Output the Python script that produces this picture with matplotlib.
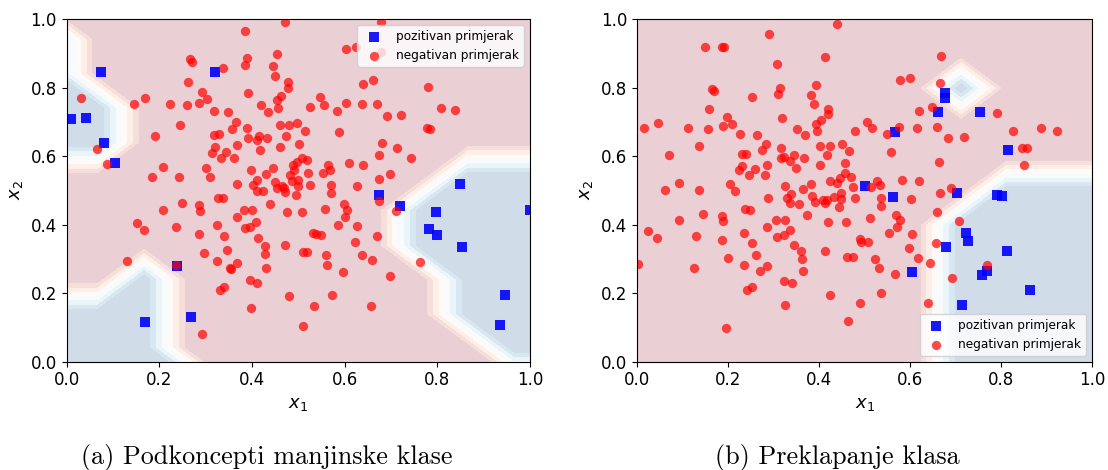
import numpy as np
import matplotlib
matplotlib.use('Agg')
from matplotlib import pyplot as plt

# ---- (a) podkoncepti manjinske klase ----
pos_a = [(0.075, 0.846), (0.320, 0.846), (0.010, 0.708), (0.041, 0.711), (0.080, 0.638),
         (0.104, 0.581), (0.239, 0.278), (0.168, 0.116), (0.269, 0.130), (0.849, 0.519),
         (0.675, 0.485), (0.719, 0.455), (0.797, 0.437), (0.782, 0.387), (0.800, 0.371),
         (0.853, 0.334), (0.947, 0.194), (0.935, 0.107), (1.000, 0.443)]

neg_a = [(0.385, 0.965), (0.471, 0.990), (0.267, 0.882), (0.271, 0.875), (0.338, 0.856),
         (0.390, 0.887), (0.386, 0.866), (0.454, 0.898), (0.445, 0.862), (0.450, 0.833),
         (0.477, 0.817), (0.477, 0.800), (0.261, 0.815), (0.293, 0.788), (0.303, 0.767),
         (0.286, 0.756), (0.260, 0.750), (0.223, 0.753), (0.170, 0.768), (0.146, 0.753),
         (0.030, 0.769), (0.392, 0.783), (0.463, 0.776), (0.453, 0.764), (0.420, 0.750),
         (0.457, 0.741), (0.435, 0.729), (0.317, 0.732), (0.348, 0.728), (0.245, 0.691),
         (0.190, 0.660), (0.365, 0.699), (0.357, 0.678), (0.390, 0.683), (0.318, 0.662),
         (0.329, 0.664), (0.392, 0.654), (0.415, 0.660), (0.410, 0.647), (0.433, 0.652),
         (0.461, 0.691), (0.480, 0.691), (0.498, 0.696), (0.474, 0.660), (0.460, 0.627),
         (0.417, 0.617), (0.368, 0.631), (0.320, 0.626), (0.345, 0.613), (0.314, 0.610),
         (0.333, 0.594), (0.362, 0.594), (0.066, 0.621), (0.086, 0.576), (0.208, 0.568),
         (0.184, 0.539), (0.243, 0.539), (0.300, 0.564), (0.309, 0.539), (0.398, 0.558),
         (0.446, 0.564), (0.430, 0.547), (0.410, 0.531), (0.367, 0.518), (0.403, 0.516),
         (0.449, 0.523), (0.464, 0.514), (0.489, 0.574), (0.497, 0.584), (0.482, 0.545),
         (0.490, 0.560), (0.502, 0.634),
         (0.678, 0.992), (0.602, 0.911), (0.624, 0.919), (0.678, 0.904), (0.640, 0.810),
         (0.662, 0.823), (0.780, 0.801), (0.546, 0.773), (0.525, 0.743), (0.556, 0.750),
         (0.583, 0.731), (0.604, 0.754), (0.637, 0.751), (0.670, 0.753), (0.691, 0.717),
         (0.721, 0.720), (0.808, 0.740), (0.839, 0.735), (0.514, 0.674), (0.589, 0.670),
         (0.778, 0.681), (0.785, 0.679), (0.681, 0.637), (0.714, 0.623), (0.675, 0.603),
         (0.744, 0.594), (0.507, 0.594), (0.519, 0.588), (0.564, 0.574), (0.569, 0.559),
         (0.610, 0.579), (0.639, 0.574), (0.521, 0.552), (0.553, 0.552), (0.698, 0.549),
         (0.674, 0.534), (0.500, 0.530), (0.525, 0.516), (0.571, 0.516), (0.626, 0.514),
         (0.424, 0.498), (0.410, 0.499), (0.453, 0.506), (0.469, 0.508), (0.471, 0.496),
         (0.495, 0.486), (0.326, 0.479), (0.337, 0.477), (0.250, 0.464), (0.285, 0.458),
         (0.287, 0.440), (0.208, 0.444), (0.383, 0.444), (0.400, 0.444), (0.438, 0.461),
         (0.476, 0.436), (0.367, 0.421), (0.408, 0.408), (0.385, 0.390), (0.395, 0.394),
         (0.152, 0.406), (0.167, 0.385), (0.237, 0.392), (0.285, 0.374), (0.324, 0.398),
         (0.339, 0.367), (0.414, 0.360), (0.429, 0.338), (0.471, 0.340), (0.429, 0.315),
         (0.347, 0.327), (0.296, 0.316), (0.325, 0.293), (0.367, 0.288), (0.352, 0.273),
         (0.355, 0.270), (0.431, 0.272), (0.130, 0.295), (0.235, 0.282), (0.396, 0.237),
         (0.411, 0.231), (0.330, 0.209), (0.339, 0.218), (0.479, 0.192), (0.399, 0.157),
         (0.292, 0.082), (0.487, 0.526), (0.500, 0.514),
         (0.571, 0.491), (0.508, 0.437), (0.557, 0.445), (0.599, 0.459), (0.605, 0.444),
         (0.600, 0.421), (0.674, 0.470), (0.711, 0.439), (0.586, 0.399), (0.626, 0.395),
         (0.532, 0.377), (0.538, 0.373), (0.550, 0.371), (0.669, 0.367), (0.622, 0.350),
         (0.510, 0.319), (0.519, 0.319), (0.560, 0.310), (0.561, 0.281), (0.638, 0.310),
         (0.659, 0.297), (0.763, 0.292), (0.597, 0.262), (0.699, 0.249), (0.572, 0.195),
         (0.533, 0.163), (0.656, 0.164), (0.511, 0.105)]

# ---- (b) preklapanje klasa ----
pos_b = [(0.676, 0.783), (0.676, 0.769), (0.662, 0.730), (0.754, 0.730), (0.567, 0.671),
         (0.815, 0.618), (0.500, 0.513), (0.563, 0.480), (0.703, 0.491), (0.791, 0.486),
         (0.801, 0.484), (0.723, 0.376), (0.728, 0.352), (0.679, 0.334), (0.813, 0.324),
         (0.604, 0.263), (0.769, 0.265), (0.759, 0.253), (0.864, 0.209), (0.715, 0.165)]

neg_b = [(0.439, 0.985), (0.291, 0.955), (0.150, 0.917), (0.186, 0.919), (0.190, 0.919),
         (0.414, 0.888), (0.308, 0.868), (0.164, 0.796), (0.168, 0.790), (0.314, 0.799),
         (0.309, 0.780), (0.252, 0.772), (0.394, 0.808), (0.382, 0.777), (0.388, 0.751),
         (0.420, 0.737), (0.420, 0.723), (0.158, 0.736), (0.197, 0.713), (0.209, 0.694),
         (0.188, 0.687), (0.155, 0.680), (0.111, 0.683), (0.046, 0.696), (0.016, 0.683),
         (0.318, 0.710), (0.404, 0.704), (0.393, 0.694), (0.396, 0.673), (0.352, 0.680),
         (0.370, 0.662), (0.226, 0.664), (0.263, 0.662), (0.479, 0.674), (0.505, 0.699),
         (0.137, 0.629), (0.070, 0.602), (0.284, 0.636), (0.275, 0.618), (0.316, 0.623),
         (0.316, 0.595), (0.322, 0.596), (0.344, 0.603), (0.336, 0.587), (0.349, 0.564),
         (0.367, 0.595), (0.230, 0.605), (0.240, 0.605), (0.230, 0.572), (0.223, 0.559),
         (0.259, 0.561), (0.246, 0.545), (0.286, 0.575), (0.281, 0.545), (0.402, 0.630),
         (0.424, 0.630), (0.450, 0.634), (0.466, 0.615), (0.418, 0.602), (0.401, 0.573),
         (0.457, 0.579), (0.093, 0.522), (0.204, 0.518), (0.324, 0.514), (0.382, 0.518),
         (0.424, 0.528), (0.439, 0.521), (0.446, 0.535), (0.457, 0.550), (0.471, 0.540),
         (0.474, 0.511), (0.062, 0.501), (0.135, 0.501),
         (0.215, 0.498), (0.287, 0.479), (0.338, 0.489), (0.330, 0.477), (0.336, 0.462),
         (0.356, 0.460), (0.364, 0.504), (0.385, 0.484), (0.391, 0.467), (0.409, 0.472),
         (0.413, 0.462), (0.417, 0.472), (0.433, 0.481), (0.448, 0.491), (0.448, 0.475),
         (0.443, 0.452), (0.479, 0.477), (0.237, 0.446), (0.248, 0.444), (0.144, 0.431),
         (0.093, 0.414), (0.187, 0.425), (0.188, 0.411), (0.305, 0.413), (0.326, 0.413),
         (0.286, 0.393), (0.374, 0.429), (0.420, 0.407), (0.459, 0.408), (0.512, 0.418),
         (0.025, 0.381), (0.043, 0.362), (0.129, 0.368), (0.187, 0.354), (0.234, 0.375),
         (0.253, 0.347), (0.308, 0.365), (0.322, 0.370), (0.337, 0.384), (0.344, 0.340),
         (0.361, 0.323), (0.362, 0.300), (0.413, 0.324), (0.489, 0.357), (0.492, 0.350),
         (0.508, 0.350), (0.200, 0.303), (0.261, 0.311), (0.235, 0.283), (0.286, 0.279),
         (0.271, 0.265), (0.364, 0.264), (0.461, 0.305), (0.474, 0.305), (0.003, 0.284),
         (0.126, 0.273), (0.322, 0.235), (0.341, 0.229), (0.241, 0.210), (0.253, 0.218),
         (0.424, 0.195), (0.489, 0.170), (0.326, 0.165), (0.463, 0.119), (0.195, 0.099),
         (0.517, 0.681), (0.576, 0.684), (0.615, 0.681), (0.620, 0.732), (0.648, 0.744),
         (0.549, 0.664), (0.558, 0.611), (0.659, 0.686), (0.664, 0.583), (0.527, 0.528),
         (0.534, 0.516), (0.514, 0.509), (0.583, 0.530), (0.620, 0.528), (0.536, 0.478),
         (0.536, 0.455), (0.603, 0.475), (0.659, 0.438), (0.569, 0.428), (0.578, 0.414),
         (0.572, 0.394), (0.554, 0.375), (0.604, 0.372), (0.598, 0.333), (0.656, 0.347),
         (0.618, 0.302), (0.523, 0.299),
         (0.666, 0.491), (0.689, 0.506), (0.707, 0.411), (0.532, 0.273), (0.566, 0.256),
         (0.643, 0.287), (0.692, 0.245), (0.770, 0.282), (0.536, 0.200), (0.640, 0.172),
         (0.667, 0.893), (0.600, 0.827), (0.578, 0.822), (0.666, 0.814), (0.792, 0.725),
         (0.683, 0.652), (0.719, 0.655), (0.826, 0.673),
         (0.888, 0.681), (0.923, 0.673), (0.846, 0.623), (0.857, 0.623), (0.851, 0.573)]

# classifier prediction on the 0.1-step mesh (1 = pozitivan), top row first
pred_a = ["00000000000000",
          "00000000000000",
          "11000000000000",
          "11000000000000",
          "11100000000000",
          "11100000000000",
          "00000000001111",
          "00000000011111",
          "00000000011111",
          "00010000001111",
          "11110000001111",
          "11110000000111",
          "11111000000000",
          "11111000000000"]
mesh_a_x0, mesh_a_y0 = -0.133, -0.16

pred_b = ["0000000000000",
          "0000000000000",
          "0000000000000",
          "0000000010000",
          "0000000000000",
          "0000000000000",
          "0000000001111",
          "0000000011111",
          "0000000011111",
          "0000000011111",
          "0000000011111",
          "0000000011111",
          "0000000011111"]
mesh_b_x0, mesh_b_y0 = -0.088, -0.102

labels = ['pozitivan primjerak', 'negativan primjerak']
captions = ['(a) Podkoncepti manjinske klase', '(b) Preklapanje klasa']

# RdBu bands at alpha 0.2 on white, pre-mixed so that no seams show between bands
levels = np.linspace(0, 1, 9)
mids = (levels[:-1] + levels[1:]) / 2
band_colors = [0.8 * np.ones(3) + 0.2 * np.array(plt.cm.RdBu(m)[:3]) for m in mids]


def draw_panel(ax, pos, neg, pred, x0, y0, legend_loc):
    Z = np.array([[int(c) for c in row] for row in pred[::-1]], dtype=float)
    xs = x0 + 0.1 * np.arange(Z.shape[1])
    ys = y0 + 0.1 * np.arange(Z.shape[0])
    xx, yy = np.meshgrid(xs, ys)
    ax.contourf(xx, yy, Z, levels=levels, colors=band_colors, antialiased=False)

    pos = np.array(pos)
    neg = np.array(neg)
    ax.scatter(pos[:, 0], pos[:, 1], marker='s', s=45, c='b', alpha=0.9,
               linewidths=0, label=labels[0])
    ax.scatter(neg[:, 0], neg[:, 1], marker='o', s=45, c='r', alpha=0.7,
               linewidths=0, label=labels[1])

    ax.set_xlim(0, 1)
    ax.set_ylim(0, 1)
    ax.set_xticks(np.arange(0, 1.01, 0.2))
    ax.set_yticks(np.arange(0, 1.01, 0.2))
    ax.tick_params(labelsize=12)
    ax.set_xlabel('$x_1$', fontsize=13)
    ax.set_ylabel('$x_2$', fontsize=13)
    ax.legend(loc=legend_loc, fontsize=8.7)


fig = plt.figure(figsize=(11.08, 4.70), dpi=100)
ax1 = fig.add_axes([0.0602, 0.2304, 0.418, 0.7292])
ax2 = fig.add_axes([0.575, 0.2304, 0.4106, 0.7292])

draw_panel(ax1, pos_a, neg_a, pred_a, mesh_a_x0, mesh_a_y0, 'upper right')
draw_panel(ax2, pos_b, neg_b, pred_b, mesh_b_x0, mesh_b_y0, 'lower right')

fig.text(0.241, 0.027, captions[0], ha='center', va='center', fontsize=18.8, family='cmr10')
fig.text(0.756, 0.027, captions[1], ha='center', va='center', fontsize=18.8, family='cmr10')

fig.savefig('out.png', dpi=100)
